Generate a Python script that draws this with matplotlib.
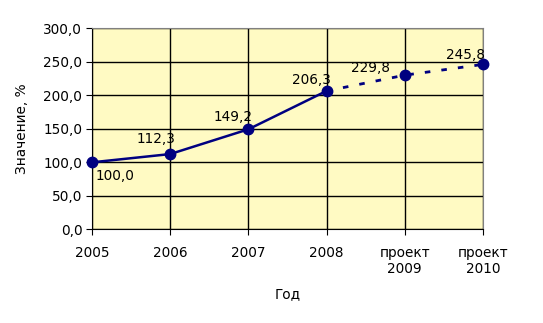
import numpy as np
import matplotlib
matplotlib.use('Agg')
import matplotlib.pyplot as plt

years = ['2005', '2006', '2007', '2008', 'проект\n2009', 'проект\n2010']
values = [100.0, 112.3, 149.2, 206.3, 229.8, 245.8]
n_actual = 4  # first 4 points are actual, rest are projections

# label placement (pixels from the point): (dx, dy, ha, va)
label_pos = [(4, -7, 'left', 'top'), (5, 11, 'right', 'baseline'),
             (4, 8, 'right', 'baseline'), (4, 7, 'right', 'baseline'),
             (-15, 3, 'right', 'baseline'), (2, 5, 'right', 'baseline')]

plt.rcParams['font.family'] = ['DejaVu Sans']

fig = plt.figure(figsize=(5.43, 3.23), dpi=100)
ax = fig.add_axes([0.1694, 0.2895, 0.7201, 0.6238])
ax.set_facecolor('#FFFAC3')

x = np.arange(len(values))
navy = '#000080'

ax.plot(x[:n_actual], values[:n_actual], color=navy, lw=1.8, zorder=3)
ax.plot(x[n_actual - 1:], values[n_actual - 1:], color=navy, lw=2,
        linestyle=(0, (2, 4)), zorder=3)
ax.plot(x, values, 'o', color=navy, ms=7.5, zorder=4, clip_on=False)

# data labels
for i, v in enumerate(values):
    txt = f'{v:.1f}'.replace('.', ',')
    dx, dy, ha, va = label_pos[i]
    ax.annotate(txt, (x[i], v), xytext=(dx, dy), textcoords='offset pixels',
                ha=ha, va=va, fontsize=9.8, zorder=5)

ax.set_xlim(0, len(values) - 1)
ax.set_ylim(0, 300)
yt = np.arange(0, 301, 50)
ax.set_yticks(yt)
ax.set_yticklabels([f'{t:.1f}'.replace('.', ',') for t in yt])
ax.set_xticks(x)
ax.set_xticklabels(years)

ax.grid(True, color='black', lw=1)
ax.set_axisbelow(True)
for s in ['top', 'right']:
    ax.spines[s].set_color('#808080')
for s in ['left', 'bottom']:
    ax.spines[s].set_color('black')

ax.tick_params(axis='both', labelsize=9.8, direction='out', length=4, color='black')
ax.tick_params(axis='x', pad=8)
ax.tick_params(axis='y', pad=3)

ax.set_xlabel('Год', fontsize=9.8, labelpad=8)
ax.set_ylabel('Значение, %', fontsize=9.8, labelpad=10)

fig.savefig('out.png', dpi=100)
